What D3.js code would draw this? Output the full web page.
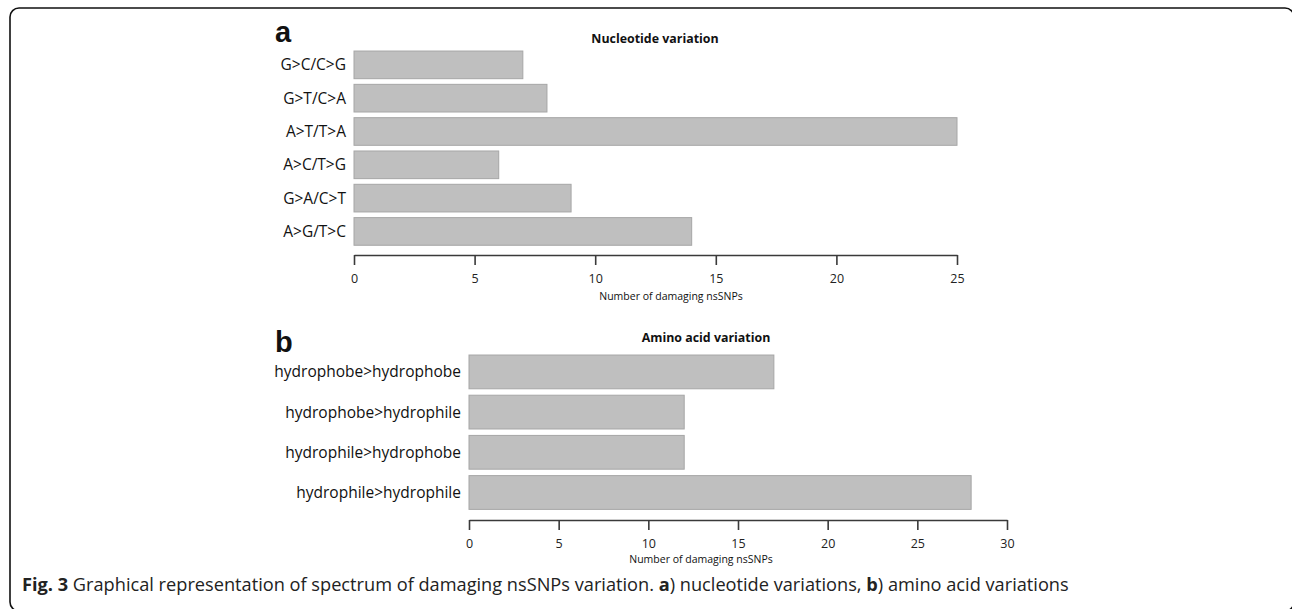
<!DOCTYPE html>
<html>
<head>
<meta charset="utf-8">
<script src="https://cdn.jsdelivr.net/npm/d3@7"></script>
<style>
  body { margin: 0; background: #fff; }
  svg { display: block; font-family: "Open Sans", sans-serif; }
</style>
</head>
<body>
<svg id="chart" width="1292" height="609"></svg>
<script>
// panel a: nucleotide variation (top to bottom)
var ntCategories = ["G>C/C>G", "G>T/C>A", "A>T/T>A", "A>C/T>G", "G>A/C>T", "A>G/T>C"];
var ntValues = [7, 8, 25, 6, 9, 14];
var ntTicks = [0, 5, 10, 15, 20, 25];

// panel b: amino acid variation
var aaCategories = ["hydrophobe>hydrophobe", "hydrophobe>hydrophile", "hydrophile>hydrophobe", "hydrophile>hydrophile"];
var aaValues = [17, 12, 12, 28];
var aaTicks = [0, 5, 10, 15, 20, 25, 30];

var xTitle = "Number of damaging nsSNPs";

var BAR_FILL = "#bfbfbf";
var BAR_STROKE = "#a6a6a6";
var AXIS_COLOR = "#3a3a3a";

var svg = d3.select("#chart");

// frame of the figure box (runs off the right/bottom edge)
svg.append("rect")
  .attr("x", 10).attr("y", 8)
  .attr("width", 1284).attr("height", 603)
  .attr("rx", 9).attr("ry", 9)
  .style("fill", "none")
  .style("stroke", "#111")
  .style("stroke-width", 1.6);

// draws one horizontal bar panel
function drawPanel(opt) {
  var x = d3.scaleLinear()
    .domain([0, opt.max])
    .range([opt.x0, opt.x1]);

  var y = d3.scaleBand()
    .domain(opt.cats)
    .range([opt.y0, opt.y1])
    .paddingInner(opt.padIn)
    .paddingOuter(opt.padIn / 2);

  var g = svg.append("g");

  g.selectAll("rect.bar")
    .data(opt.vals)
    .enter().append("rect")
    .attr("class", "bar")
    .attr("x", x(0))
    .attr("y", function(d, i) { return y(opt.cats[i]); })
    .attr("width", function(d) { return x(d) - x(0); })
    .attr("height", y.bandwidth())
    .style("fill", BAR_FILL)
    .style("stroke", BAR_STROKE)
    .style("stroke-width", 1);

  g.selectAll("text.cat")
    .data(opt.cats)
    .enter().append("text")
    .attr("class", "cat")
    .attr("x", x(0) - 8)
    .attr("y", function(d) { return y(d) + y.bandwidth() / 2; })
    .attr("dy", "0.36em")
    .attr("text-anchor", "end")
    .style("font-size", opt.catSize + "px")
    .style("fill", "#111")
    .text(function(d) { return d; });

  var axis = d3.axisBottom(x)
    .tickValues(opt.ticks)
    .tickSize(10)
    .tickSizeOuter(0)
    .tickPadding(9);

  var ax = g.append("g")
    .attr("transform", "translate(0," + opt.axisY + ")")
    .call(axis);
  ax.select(".domain").style("stroke", AXIS_COLOR).style("stroke-width", 1.6);
  ax.selectAll(".tick line").style("stroke", AXIS_COLOR).style("stroke-width", 1.6);
  ax.selectAll(".tick text")
    .style("font-family", "Open Sans, sans-serif")
    .style("font-size", "12.5px")
    .style("fill", "#222");

  g.append("text")
    .attr("x", opt.xTitleX)
    .attr("y", opt.xTitleY)
    .attr("text-anchor", "middle")
    .style("font-size", "10.5px")
    .style("fill", "#111")
    .text(xTitle);

  g.append("text")
    .attr("x", opt.titleX)
    .attr("y", opt.titleY)
    .attr("text-anchor", "middle")
    .style("font-size", "12.4px")
    .style("font-weight", "bold")
    .style("fill", "#111")
    .text(opt.title);

  g.append("text")
    .attr("x", 275)
    .attr("y", opt.letterY)
    .style("font-family", "Liberation Sans, Arial, sans-serif")
    .style("font-size", "29px")
    .style("font-weight", "bold")
    .style("fill", "#111")
    .text(opt.letter);
}

drawPanel({
  cats: ntCategories, vals: ntValues, ticks: ntTicks, max: 25,
  x0: 354, x1: 957, y0: 48.2, y1: 248.1, padIn: 0.17,
  axisY: 255, catSize: 15.5,
  xTitleX: 671, xTitleY: 300,
  title: "Nucleotide variation", titleX: 655, titleY: 43,
  letter: "a", letterY: 42
});

drawPanel({
  cats: aaCategories, vals: aaValues, ticks: aaTicks, max: 30,
  x0: 469, x1: 1007, y0: 351.8, y1: 512.6, padIn: 0.16,
  axisY: 520, catSize: 15.5,
  xTitleX: 701, xTitleY: 563,
  title: "Amino acid variation", titleX: 706, titleY: 342,
  letter: "b", letterY: 352
});

// caption
var cap = svg.append("text")
  .attr("x", 22)
  .attr("y", 591)
  .style("font-size", "18.2px")
  .style("fill", "#222");
cap.append("tspan").style("font-weight", "bold").text("Fig. 3");
cap.append("tspan").text(" Graphical representation of spectrum of damaging nsSNPs variation. ");
cap.append("tspan").style("font-weight", "bold").text("a");
cap.append("tspan").text(") nucleotide variations, ");
cap.append("tspan").style("font-weight", "bold").text("b");
cap.append("tspan").text(") amino acid variations");
</script>
</body>
</html>
